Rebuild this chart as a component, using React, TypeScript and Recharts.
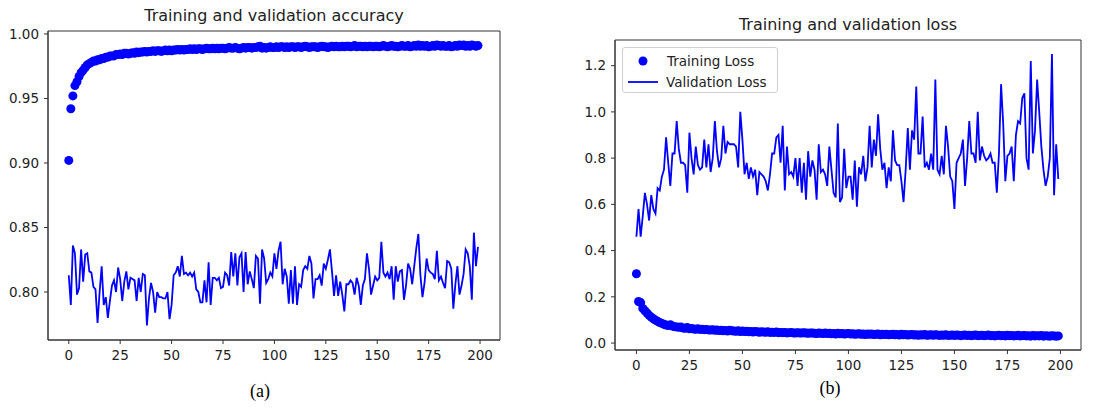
import { ComposedChart, Line, Scatter, XAxis, YAxis, ReferenceArea } from 'recharts'

const epochs = Array.from({ length: 200 }, (_, i) => i)

const trainAcc = [
  0.902, 0.942, 0.952, 0.960, 0.963, 0.967, 0.970, 0.972, 0.974, 0.976,
  0.977, 0.978, 0.979, 0.979, 0.980, 0.980, 0.981, 0.981, 0.982, 0.982,
  0.983, 0.983, 0.983, 0.984, 0.984, 0.9845, 0.984, 0.985, 0.985, 0.9845,
  0.985, 0.9855, 0.985, 0.986, 0.9855, 0.986, 0.986, 0.9865, 0.986, 0.9865,
  0.9865, 0.987, 0.9865, 0.987, 0.987, 0.9865, 0.987, 0.9875, 0.987, 0.9875,
  0.987, 0.9875, 0.9875, 0.988, 0.9875, 0.988, 0.9875, 0.988, 0.988, 0.9885,
  0.988, 0.9885, 0.988, 0.9885, 0.9885, 0.988, 0.9885, 0.989, 0.9885, 0.9885,
  0.989, 0.9885, 0.989, 0.9885, 0.989, 0.989, 0.9885, 0.989, 0.9895, 0.989,
  0.989, 0.9895, 0.989, 0.9885, 0.989, 0.9895, 0.989, 0.9895, 0.9895, 0.989,
  0.9895, 0.9895, 0.990, 0.9905, 0.989, 0.9895, 0.989, 0.9895, 0.990, 0.9895,
  0.9895, 0.990, 0.9895, 0.990, 0.990, 0.9895, 0.990, 0.9895, 0.990, 0.990,
  0.9895, 0.990, 0.990, 0.9895, 0.990, 0.9905, 0.990, 0.9895, 0.990, 0.990,
  0.990, 0.9895, 0.990, 0.9905, 0.990, 0.990, 0.9895, 0.990, 0.9905, 0.990,
  0.9905, 0.990, 0.990, 0.9905, 0.990, 0.9905, 0.9905, 0.990, 0.9905, 0.991,
  0.990, 0.9905, 0.9905, 0.990, 0.9905, 0.990, 0.9905, 0.9905, 0.990, 0.9905,
  0.9905, 0.990, 0.9905, 0.991, 0.9905, 0.990, 0.9905, 0.991, 0.9905, 0.9905,
  0.990, 0.9905, 0.991, 0.9905, 0.9905, 0.991, 0.990, 0.9905, 0.991, 0.9905,
  0.9915, 0.9905, 0.991, 0.9905, 0.991, 0.990, 0.9905, 0.991, 0.9905, 0.9915,
  0.991, 0.9905, 0.991, 0.9905, 0.9905, 0.991, 0.990, 0.9905, 0.991, 0.9905,
  0.9915, 0.991, 0.9915, 0.9905, 0.991, 0.9905, 0.9915, 0.991, 0.9905, 0.991,
]

const valAcc = [
  0.813, 0.790, 0.836, 0.830, 0.798, 0.803, 0.833, 0.808, 0.829, 0.830,
  0.816, 0.815, 0.804, 0.802, 0.776, 0.800, 0.820, 0.790, 0.796, 0.780,
  0.793, 0.805, 0.809, 0.800, 0.819, 0.810, 0.793, 0.808, 0.816, 0.802,
  0.811, 0.810, 0.809, 0.793, 0.811, 0.800, 0.814, 0.813, 0.774, 0.795,
  0.807, 0.800, 0.784, 0.800, 0.796, 0.796, 0.795, 0.795, 0.800, 0.779,
  0.790, 0.813, 0.815, 0.820, 0.812, 0.828, 0.814, 0.815, 0.813, 0.815,
  0.812, 0.815, 0.802, 0.800, 0.792, 0.792, 0.809, 0.792, 0.823, 0.790,
  0.811, 0.811, 0.809, 0.811, 0.803, 0.804, 0.815, 0.813, 0.805, 0.831,
  0.812, 0.830, 0.805, 0.827, 0.830, 0.800, 0.831, 0.806, 0.816, 0.810,
  0.803, 0.828, 0.826, 0.791, 0.833, 0.826, 0.807, 0.810, 0.815, 0.812,
  0.830, 0.818, 0.832, 0.839, 0.806, 0.818, 0.812, 0.791, 0.817, 0.791,
  0.820, 0.790, 0.806, 0.804, 0.817, 0.820, 0.818, 0.828, 0.822, 0.795,
  0.810, 0.810, 0.813, 0.805, 0.822, 0.818, 0.825, 0.833, 0.816, 0.797,
  0.813, 0.797, 0.808, 0.798, 0.785, 0.806, 0.806, 0.809, 0.807, 0.798,
  0.811, 0.805, 0.790, 0.805, 0.810, 0.830, 0.818, 0.798, 0.805, 0.812,
  0.809, 0.811, 0.839, 0.815, 0.812, 0.815, 0.810, 0.820, 0.794, 0.820,
  0.808, 0.816, 0.817, 0.794, 0.805, 0.822, 0.818, 0.806, 0.820, 0.834,
  0.845, 0.813, 0.796, 0.807, 0.826, 0.817, 0.815, 0.814, 0.810, 0.832,
  0.809, 0.812, 0.807, 0.803, 0.824, 0.823, 0.818, 0.787, 0.806, 0.820,
  0.798, 0.805, 0.814, 0.833, 0.830, 0.820, 0.794, 0.846, 0.820, 0.835,
]

const trainLoss = [
  0.300, 0.180, 0.175, 0.150, 0.140, 0.130, 0.120, 0.112, 0.105, 0.099,
  0.094, 0.089, 0.085, 0.081, 0.078, 0.076, 0.079, 0.073, 0.071, 0.070,
  0.068, 0.069, 0.065, 0.064, 0.067, 0.062, 0.063, 0.061, 0.060, 0.062,
  0.059, 0.060, 0.058, 0.059, 0.057, 0.056, 0.058, 0.055, 0.056, 0.054,
  0.055, 0.053, 0.054, 0.052, 0.055, 0.053, 0.052, 0.051, 0.053, 0.050,
  0.052, 0.050, 0.051, 0.049, 0.050, 0.048, 0.050, 0.049, 0.047, 0.049,
  0.048, 0.047, 0.049, 0.046, 0.047, 0.046, 0.048, 0.045, 0.046, 0.045,
  0.046, 0.044, 0.045, 0.046, 0.044, 0.043, 0.045, 0.044, 0.043, 0.045,
  0.043, 0.042, 0.044, 0.043, 0.042, 0.041, 0.043, 0.042, 0.041, 0.043,
  0.041, 0.042, 0.040, 0.041, 0.039, 0.042, 0.040, 0.041, 0.039, 0.040,
  0.041, 0.039, 0.040, 0.038, 0.039, 0.040, 0.038, 0.039, 0.037, 0.039,
  0.038, 0.039, 0.037, 0.038, 0.039, 0.036, 0.038, 0.037, 0.038, 0.036,
  0.037, 0.038, 0.036, 0.037, 0.035, 0.038, 0.036, 0.037, 0.035, 0.036,
  0.037, 0.035, 0.036, 0.034, 0.036, 0.035, 0.037, 0.034, 0.035, 0.036,
  0.034, 0.036, 0.035, 0.033, 0.035, 0.034, 0.036, 0.033, 0.034, 0.035,
  0.033, 0.035, 0.034, 0.032, 0.034, 0.035, 0.033, 0.034, 0.032, 0.034,
  0.035, 0.032, 0.033, 0.034, 0.032, 0.033, 0.035, 0.032, 0.033, 0.031,
  0.033, 0.034, 0.032, 0.033, 0.031, 0.034, 0.032, 0.033, 0.031, 0.032,
  0.034, 0.031, 0.032, 0.033, 0.031, 0.032, 0.030, 0.033, 0.031, 0.032,
  0.031, 0.033, 0.030, 0.032, 0.031, 0.030, 0.032, 0.031, 0.030, 0.031,
]

const valLoss = [
  0.46, 0.58, 0.46, 0.55, 0.65, 0.60, 0.53, 0.64, 0.58, 0.56,
  0.67, 0.66, 0.72, 0.75, 0.89, 0.78, 0.68, 0.82, 0.82, 0.96,
  0.84, 0.78, 0.78, 0.77, 0.65, 0.91, 0.80, 0.73, 0.85, 0.77,
  0.75, 0.76, 0.88, 0.76, 0.86, 0.74, 0.80, 0.96, 0.83, 0.76,
  0.80, 0.94, 0.82, 0.87, 0.86, 0.86, 0.86, 0.85, 0.76, 1.00,
  0.88, 0.73, 0.78, 0.71, 0.76, 0.72, 0.75, 0.64, 0.74, 0.73,
  0.72, 0.70, 0.66, 0.73, 0.82, 0.82, 0.89, 0.90, 0.78, 0.94,
  0.66, 0.85, 0.73, 0.74, 0.72, 0.80, 0.68, 0.80, 0.65, 0.78,
  0.62, 0.83, 0.72, 0.79, 0.75, 0.62, 0.86, 0.74, 0.75, 0.73,
  0.68, 0.85, 0.75, 0.65, 0.63, 0.95, 0.61, 0.63, 0.84, 0.67,
  0.72, 0.72, 0.62, 0.79, 0.59, 0.76, 0.73, 0.81, 0.70, 0.76,
  0.94, 0.76, 0.88, 0.81, 0.99, 0.84, 0.75, 0.78, 0.67, 0.76,
  0.70, 0.92, 0.79, 0.77, 0.77, 0.70, 0.61, 0.75, 0.93, 0.75,
  0.92, 0.88, 1.11, 0.82, 0.82, 0.98, 0.76, 0.78, 0.75, 0.82,
  0.75, 1.14, 0.75, 0.73, 0.81, 0.73, 0.94, 0.85, 0.72, 0.70,
  0.58, 0.78, 0.80, 0.82, 0.88, 0.68, 0.80, 0.96, 0.82, 0.82,
  0.78, 1.00, 0.79, 0.85, 0.81, 0.79, 0.80, 0.82, 0.78, 0.78,
  0.65, 0.82, 1.12, 0.95, 0.70, 0.81, 0.82, 0.85, 0.70, 0.90,
  0.96, 0.95, 1.06, 1.08, 0.80, 0.75, 1.22, 0.82, 0.92, 1.14,
  1.00, 0.85, 0.75, 0.68, 0.72, 0.80, 1.25, 0.64, 0.86, 0.71,
]

const xTicks = [0, 25, 50, 75, 100, 125, 150, 175, 200]
const accTicks = [0.8, 0.85, 0.9, 0.95, 1.0]
const lossTicks = [0, 0.2, 0.4, 0.6, 0.8, 1.0, 1.2]

const accData = epochs.map((e, i) => ({ epoch: e, train: trainAcc[i], val: valAcc[i] }))
const lossData = epochs.map((e, i) => ({ epoch: e, train: trainLoss[i], val: valLoss[i] }))

const BLUE = '#0000ff'
const AXIS = '#333'
const FONT = '"DejaVu Sans", sans-serif'
const tickStyle = { fill: '#222', fontSize: 13.5, fontFamily: FONT }
const X_DOMAIN: [number, number] = [-10.1, 209.7]

const Dot = (props: any) => <circle cx={props.cx} cy={props.cy} r={4.5} fill={BLUE} />

function LossLegend() {
  return (
    <div
      style={{
        position: 'absolute', left: 62, top: 47, width: 154, height: 44,
        border: '1px solid #d0d0d0', borderRadius: 3, background: 'rgba(255,255,255,0.8)',
        fontFamily: FONT, fontSize: 13.5, color: '#222',
      }}
    >
      <svg width={40} height={44} style={{ position: 'absolute', left: 0, top: 0 }}>
        <circle cx={20} cy={13} r={4.5} fill={BLUE} />
        <line x1={5} x2={35} y1={34} y2={34} stroke={BLUE} strokeWidth={1.8} />
      </svg>
      <div style={{ position: 'absolute', left: 44, top: 4, lineHeight: '18px' }}>Training Loss</div>
      <div style={{ position: 'absolute', left: 43, top: 25, lineHeight: '18px' }}>Validation Loss</div>
    </div>
  )
}

function Panel(props: {
  data: any[]
  width: number
  height: number
  margin: any
  yWidth: number
  yDomain: [number, number]
  yTicks: number[]
  yFmt: (v: number) => string
}) {
  const { data, width, height, margin, yWidth, yDomain, yTicks, yFmt } = props
  return (
    <ComposedChart width={width} height={height} data={data} margin={margin}>
      <XAxis
        dataKey="epoch" type="number" domain={X_DOMAIN} ticks={xTicks} allowDataOverflow
        tick={tickStyle} tickSize={4} tickMargin={6} height={30}
        axisLine={{ stroke: AXIS }} tickLine={{ stroke: AXIS }}
      />
      <YAxis
        type="number" domain={yDomain} ticks={yTicks} allowDataOverflow width={yWidth}
        tick={tickStyle} tickFormatter={yFmt} tickSize={4} tickMargin={5}
        axisLine={{ stroke: AXIS }} tickLine={{ stroke: AXIS }}
      />
      {/* full box frame like matplotlib's spines */}
      <ReferenceArea
        x1={X_DOMAIN[0]} x2={X_DOMAIN[1]} y1={yDomain[0]} y2={yDomain[1]}
        fill="none" fillOpacity={0} stroke={AXIS} strokeWidth={1} ifOverflow="visible"
      />
      <Scatter dataKey="train" fill={BLUE} shape={Dot} isAnimationActive={false} />
      <Line
        type="linear" dataKey="val" stroke={BLUE} strokeWidth={1.8} dot={false}
        activeDot={false} isAnimationActive={false}
      />
    </ComposedChart>
  )
}

export default function App() {
  return (
    <div style={{ position: 'absolute', left: 0, top: 0, width: 1102, height: 409, background: '#fff', overflow: 'hidden' }}>
      <div style={{ position: 'absolute', left: 0, top: 0 }}>
        <Panel
          data={accData} width={540} height={370}
          margin={{ top: 31, right: 40, left: 0, bottom: 0 }}
          yWidth={48} yDomain={[0.7628, 1.0023]} yTicks={accTicks}
          yFmt={(v) => v.toFixed(2)}
        />
      </div>
      <div style={{ position: 'absolute', left: 48, width: 452, top: 6, textAlign: 'center', fontFamily: FONT, fontSize: 16, color: '#222' }}>
        Training and validation accuracy
      </div>
      <div style={{ position: 'absolute', left: 220, width: 80, top: 381, textAlign: 'center', fontFamily: '"Liberation Serif", serif', fontSize: 18, color: '#000' }}>
        (a)
      </div>

      <div style={{ position: 'absolute', left: 560, top: 0 }}>
        <Panel
          data={lossData} width={542} height={380}
          margin={{ top: 40, right: 21, left: 0, bottom: 0 }}
          yWidth={55} yDomain={[-0.03, 1.311]} yTicks={lossTicks}
          yFmt={(v) => v.toFixed(1)}
        />
        <LossLegend />
      </div>
      <div style={{ position: 'absolute', left: 615, width: 466, top: 15, textAlign: 'center', fontFamily: FONT, fontSize: 16, color: '#222' }}>
        Training and validation loss
      </div>
      <div style={{ position: 'absolute', left: 790, width: 80, top: 378, textAlign: 'center', fontFamily: '"Liberation Serif", serif', fontSize: 18, color: '#000' }}>
        (b)
      </div>
    </div>
  )
}
